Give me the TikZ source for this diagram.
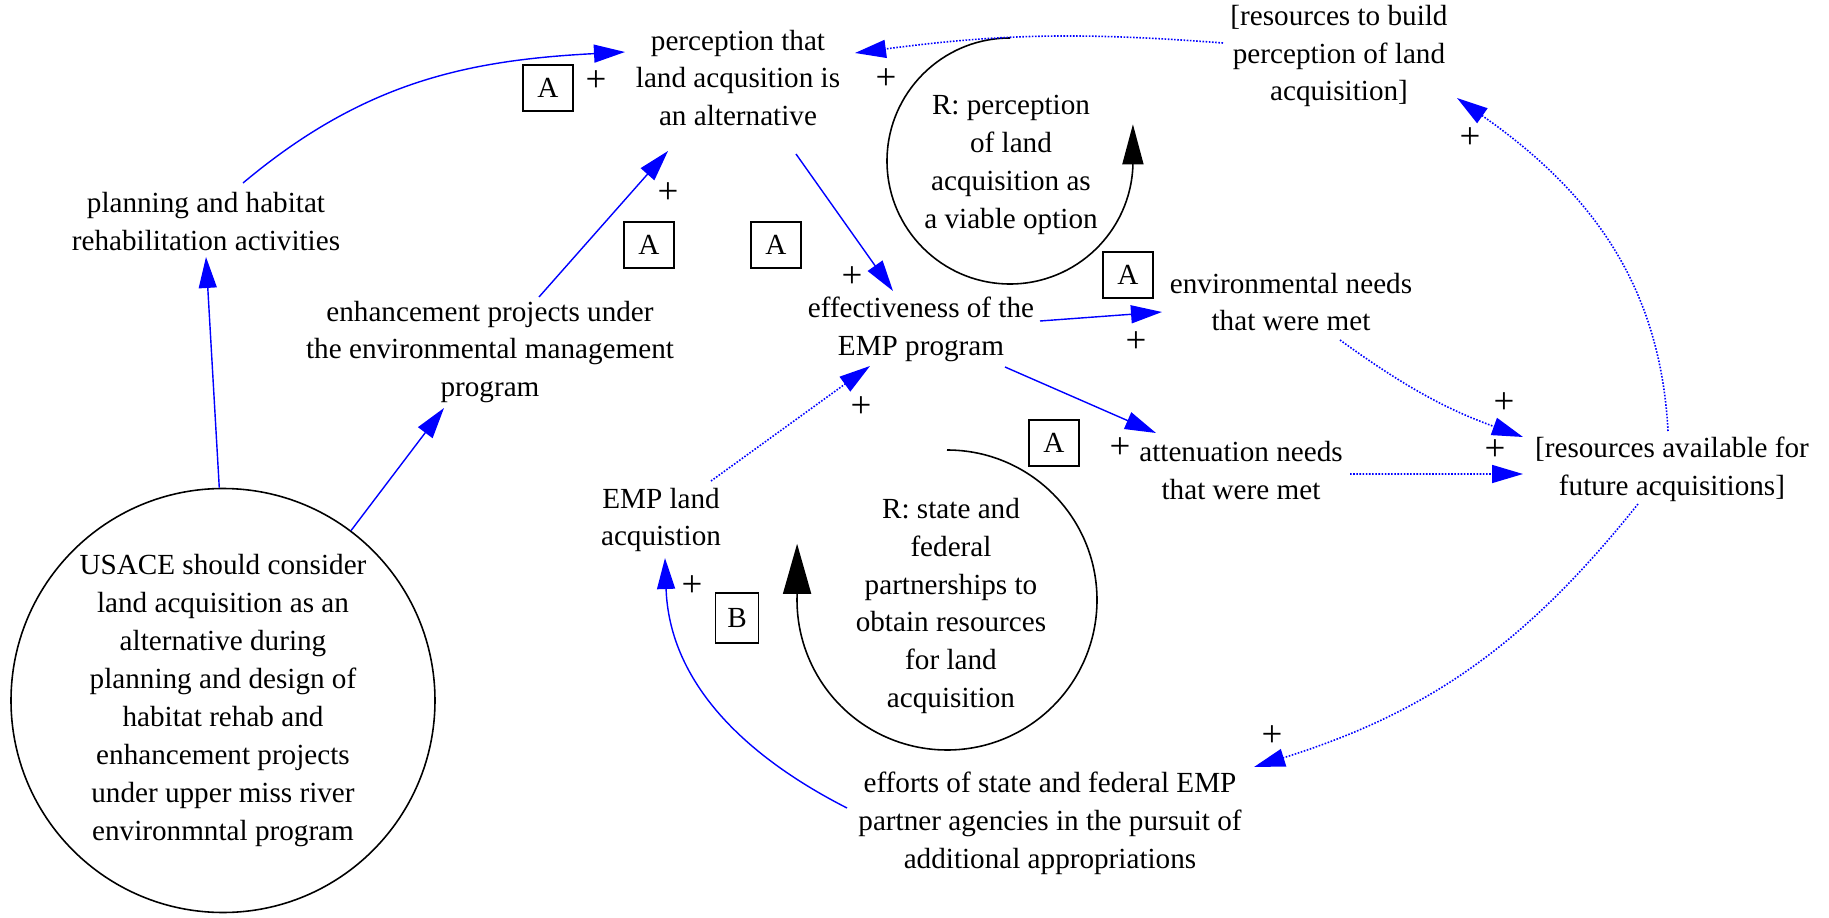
\documentclass[tikz,border=0pt]{standalone}
\usepackage{fontspec}
\setmainfont{Liberation Serif}
\usepackage{tikz}
\usetikzlibrary{calc,arrows.meta}

\begin{document}
\begin{tikzpicture}[font=\fontsize{8.3}{10.8}\selectfont,
		var/.style={align=center,inner sep=0.5mm},
		tag/.style={draw,line width=0.45pt,minimum width=5mm,minimum height=4.6mm,inner sep=0pt},
		pol/.style={inner sep=0pt,font=\fontsize{10.5}{12}\selectfont},
		lnk/.style={blue,line width=0.4pt,-{Triangle[length=3.1mm,width=1.8mm]}},
		dlnk/.style={lnk,line width=0.45pt,dash pattern=on 0.45pt off 0.45pt},
		loopl/.style={line width=0.45pt}]
	\def\ra{1.23}
	\def\rb{1.50}
	
	\useasboundingbox (0,0) rectangle (18.29,9.17);
	
	% variables
	\node[var] (P) at (7.38,8.39) {perception that\\land acqusition is\\an alternative};
	\node[var] (PH) at (2.06,6.95) {planning and habitat\\rehabilitation activities};
	\node[var] (EP) at (4.90,5.65) {enhancement projects under\\the environmental management\\program};
	\node[draw,circle,line width=0.45pt,minimum size=4.24cm,inner sep=0pt,align=center] (U) at (2.23,2.165)
		{USACE should consider\\land acquisition as an\\alternative during\\planning and design of\\habitat rehab and\\enhancement projects\\under upper miss river\\environmntal program};
	\node[var] (E) at (9.21,5.88) {effectiveness of the\\EMP program};
	\node[var] (L) at (6.61,3.97) {EMP land\\acquistion};
	\node[var] (EN) at (12.91,6.15) {environmental needs\\that were met};
	\node[var] (AN) at (12.41,4.46) {attenuation needs\\that were met};
	\node[var] (RA) at (16.72,4.48) {[resources available for\\future acquisitions]};
	\node[var] (RB) at (13.39,8.61) {[resources to build\\perception of land\\acquisition]};
	\node[var] (S) at (10.50,0.94) {efforts of state and federal EMP\\partner agencies in the pursuit of\\additional appropriations};
	
	% loops
	\coordinate (C1) at (10.10,7.56);
	\coordinate (C2) at (9.47,3.17);
	\node[var] (R1) at (10.11,7.52) {R: perception\\of land\\acquisition as\\a viable option};
	\node[var] (R2) at (9.51,3.11) {R: state and\\federal\\partnerships to\\obtain resources\\for land\\acquisition};
	\draw[loopl,-{Triangle[length=4mm,width=2.1mm]}] (C1) ++(0,\ra) arc[start angle=90,end angle=358,radius=\ra] -- ++(0,0.41);
	\draw[loopl,-{Triangle[length=5mm,width=2.8mm]}] (C2) ++(0,\rb) arc[start angle=90,end angle=-182,radius=\rb] -- ++(0,0.51);
	
	% delay boxes
	\node[tag] (A1) at (5.48,8.29) {A};
	\node[tag] (A2) at (6.49,6.72) {A};
	\node[tag] (A3) at (7.76,6.72) {A};
	\node[tag] (A4) at (11.28,6.42) {A};
	\node[tag] (A5) at (10.54,4.74) {A};
	\node[tag,minimum width=4.3mm,minimum height=5mm] (B) at (7.37,2.99) {B};
	
	% links
	\draw[lnk] ($(PH)+(0.37,0.39)$) to[out=40,in=183] ($(P)+(-1.13,0.26)$);
	\draw[lnk] (U.91) -- (PH.south);
	\draw[lnk] (U.53) -- ($(EP)+(-0.46,-0.56)$);
	\draw[lnk] ($(EP)+(0.49,0.55)$) -- ($(P)+(-0.70,-0.73)$);
	\draw[lnk] ($(P)+(0.58,-0.76)$) -- ($(E)+(-0.28,0.38)$);
	\draw[dlnk] ($(L)+(0.50,0.39)$) -- ($(E)+(-0.51,-0.37)$);
	\draw[lnk] ($(E)+(1.19,0.08)$) -- ($(EN)+(-1.29,-0.10)$);
	\draw[lnk] ($(E)+(0.84,-0.38)$) -- ($(AN)+(-0.85,0.38)$);
	\draw[dlnk] ($(EN)+(0.49,-0.38)$) to[bend right=8] ($(RA)+(-1.49,0.32)$);
	\draw[dlnk] ($(AN)+(1.09,-0.03)$) -- ($(RA)+(-1.49,-0.05)$);
	\draw[dlnk] ($(RA)+(-0.04,0.38)$) to[out=93,in=-35] ($(RB)+(1.18,-0.42)$);
	\draw[dlnk] ($(RB)+(-1.16,0.13)$) to[bend right=6] ($(P)+(1.17,0.25)$);
	\draw[dlnk] ($(RA)+(-0.34,-0.35)$) to[bend left=17] ($(S)+(2.04,0.56)$);
	\draw[lnk] ($(S)+(-2.03,0.15)$) to[out=153,in=-88] ($(L)+(0.04,-0.38)$);
	
	% polarities
	\node[pol] (s1) at (5.96,8.36) {+};
	\node[pol] (s2) at (8.86,8.38) {+};
	\node[pol] (s3) at (6.68,7.24) {+};
	\node[pol] (s4) at (8.52,6.40) {+};
	\node[pol] (s5) at (8.61,5.10) {+};
	\node[pol] (s6) at (11.36,5.75) {+};
	\node[pol] (s7) at (11.20,4.69) {+};
	\node[pol] (s8) at (15.04,5.14) {+};
	\node[pol] (s9) at (14.95,4.67) {+};
	\node[pol] (s10) at (14.70,7.79) {+};
	\node[pol] (s11) at (12.72,1.81) {+};
	\node[pol] (s12) at (6.92,3.31) {+};
\end{tikzpicture}
\end{document}
